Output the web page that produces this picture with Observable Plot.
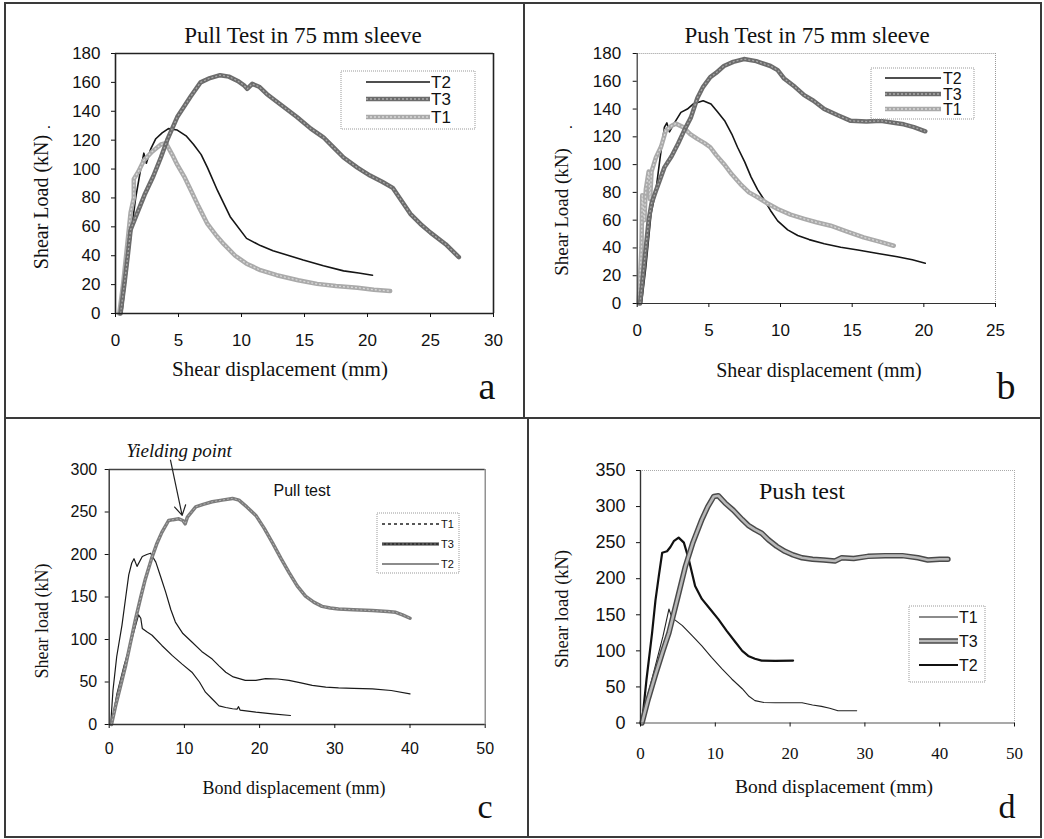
<!DOCTYPE html>
<html>
<head>
<meta charset="utf-8">
<script src="https://cdn.jsdelivr.net/npm/d3@7"></script>
<script src="https://cdn.jsdelivr.net/npm/@observablehq/plot@0.6"></script>
<style>
  body { margin: 0; background: #fff; }
  #root { position: relative; width: 1044px; height: 839px; background: #fff; overflow: hidden; }
</style>
</head>
<body>
<div id="root"></div>
<script>
// ---------- Panel a: Pull Test in 75 mm sleeve ----------
const aXTicks = [0, 5, 10, 15, 20, 25, 30];
const aYTicks = [0, 20, 40, 60, 80, 100, 120, 140, 160, 180];
const aT2x = [0.5, 0.9, 1.3, 1.6, 2.0, 2.25, 2.45, 2.8, 3.2, 3.7, 4.2, 4.9, 5.6, 6.2, 6.8, 7.3, 8.1, 9.1, 10.4, 11.5, 12.5, 13.8, 14.9, 16.5, 18.1, 19.3, 20.4];
const aT2y = [0, 30, 60, 80, 100, 111, 104, 114, 121, 125, 128, 127, 123, 117, 110, 101, 85, 67, 52, 47, 43.5, 40, 37, 33, 29.5, 28, 26.5];
const aT1x = [0.3, 0.6, 0.9, 1.2, 1.45, 1.45, 1.8, 2.25, 2.9, 3.6, 4.0, 4.5, 4.9, 5.5, 6.0, 6.6, 7.3, 8.0, 8.6, 9.5, 10.4, 11.5, 12.8, 14.5, 16.0, 17.5, 19.2, 20.5, 21.8];
const aT1y = [0, 20, 45, 70, 80, 93, 98, 106, 112, 117, 118, 110, 103, 94, 85, 74, 62, 54, 48, 40, 34.5, 30, 26.5, 23, 20.5, 19, 17.8, 16.5, 15.5];
const aT3x = [0.4, 0.7, 1.0, 1.2, 1.7, 2.3, 3.0, 3.6, 4.1, 4.9, 5.95, 6.75, 7.5, 8.3, 9.0, 9.7, 10.2, 10.45, 10.85, 11.4, 12.0, 13.2, 14.4, 15.5, 16.5, 17.3, 18.1, 19.2, 20.2, 21.2, 22.0, 22.7, 23.4, 24.2, 25.0, 26.2, 27.25];
const aT3y = [0, 20, 42, 58, 69, 82, 95, 108, 120, 136, 150, 160, 163, 165, 164, 161, 158, 155.5, 159, 157, 152, 144, 136, 128, 122, 115, 108, 101, 95.5, 91, 87, 78, 69, 62, 56, 48, 39];

// ---------- Panel b: Push Test in 75 mm sleeve ----------
const bXTicks = [0, 5, 10, 15, 20, 25];
const bYTicks = [0, 20, 40, 60, 80, 100, 120, 140, 160, 180];
const bT2x = [0.3, 0.6, 0.97, 1.3, 1.6, 1.9, 2.07, 2.25, 2.6, 3.05, 3.5, 3.9, 4.6, 5.15, 5.6, 6.1, 6.6, 7.0, 7.5, 7.95, 8.4, 8.9, 9.3, 9.8, 10.5, 11.2, 12.0, 13.05, 14.2, 15.4, 16.8, 18.15, 19.2, 20.1];
const bT2y = [0, 26, 65, 81, 105, 127, 130, 123.6, 130, 137.6, 140, 143.6, 146, 143.6, 138, 131.6, 122, 112.5, 102, 91, 82, 74, 67, 59.5, 53, 49, 46, 43, 40.5, 38.5, 36, 33.7, 31.5, 29];
const bT1x = [0.1, 0.3, 0.35, 0.5, 0.6, 0.8, 0.9, 1.0, 1.3, 1.67, 2.0, 2.4, 2.7, 3.2, 3.7, 4.2, 4.7, 5.1, 5.5, 6.05, 6.6, 7.2, 7.8, 8.4, 9.1, 9.8, 10.7, 11.65, 12.5, 13.5, 14.6, 15.8, 16.9, 17.9];
const bT1y = [0, 40, 78, 60, 82, 95, 75, 95, 105, 113, 124.6, 128, 129.5, 127, 122, 118.5, 115.5, 112.5, 107, 100.5, 93, 86, 80, 76.5, 72, 68, 64, 61, 58.5, 56, 52, 47.6, 44.5, 41.6];
const bT3x = [0.2, 0.5, 0.8, 1.0, 1.3, 1.55, 1.9, 2.4, 2.85, 3.3, 3.75, 4.2, 4.6, 5.1, 5.5, 6.05, 6.7, 7.45, 8.3, 9.3, 9.8, 10.25, 11.0, 11.65, 12.3, 13.05, 14.0, 14.9, 16.0, 17.0, 18.0, 18.6, 19.3, 20.1];
const bT3y = [0, 30, 60, 72, 81, 88, 98, 106, 115, 125, 134, 148, 156, 163, 166, 171, 174, 176, 174.5, 171, 168, 162, 156, 150, 146, 140, 135.5, 131.5, 131, 131.5, 130, 129, 127, 124];

// ---------- Panel c: Pull test ----------
const cXTicks = [0, 10, 20, 30, 40, 50];
const cYTicks = [0, 50, 100, 150, 200, 250, 300];
const cT3x = [0.3, 0.85, 1.5, 2.2, 2.8, 3.5, 4.2, 4.8, 5.7, 6.3, 7.0, 7.9, 8.5, 9.25, 9.8, 10.1, 10.4, 11.5, 12.5, 13.7, 15.0, 16.4, 17.25, 18.3, 19.5, 20.6, 21.7, 22.8, 23.9, 25.0, 26.1, 27.2, 28.3, 29.4, 30.5, 32.5, 35.0, 37.0, 38.1, 39.0, 40.0];
const cT3y = [0, 22, 45, 70, 95, 124, 150, 171, 197, 212, 226, 240, 241, 242, 240, 236, 244, 256, 259, 262, 264, 266, 264, 256, 246, 231, 214, 196, 179, 163, 151, 144, 139, 137, 136, 135, 134, 133, 132, 129, 125];
const cT2x = [0.2, 0.5, 1.0, 1.7, 2.2, 2.6, 3.0, 3.3, 3.7, 4.4, 5.0, 5.5, 6.2, 6.8, 7.5, 8.2, 8.8, 9.8, 11.0, 12.3, 13.7, 14.6, 15.5, 16.5, 18.1, 19.5, 20.8, 22.4, 23.9, 25.5, 27.0, 28.8, 30.5, 32.5, 35.0, 37.5, 40.0];
const cT2y = [0, 40, 80, 117, 150, 176, 190, 195, 186, 197.6, 200, 201.5, 191, 175, 156, 135, 120.5, 107, 97, 86, 77, 69, 61.5, 56, 52, 52, 54, 53.5, 52, 49, 46, 44, 43, 42.5, 42, 40, 36];
const cT1x = [0.3, 1.0, 2.0, 3.0, 3.9, 4.2, 4.4, 5.0, 5.7, 7.0, 8.4, 9.7, 11.0, 12.0, 12.8, 13.7, 14.6, 15.5, 16.4, 17.0, 17.2, 17.4, 19.5, 21.7, 24.1];
const cT1y = [0, 35, 70, 100, 129, 125, 113, 109, 105, 93, 81, 71, 61.5, 50, 38, 30, 22, 20, 18.5, 18, 21, 17, 14.5, 12.5, 10.6];
const cYieldArrow = [{x1: 8.15, y1: 311, x2: 9.7, y2: 246}];

// ---------- Panel d: Push test ----------
const dXTicks = [0, 10, 20, 30, 40, 50];
const dYTicks = [0, 50, 100, 150, 200, 250, 300, 350];
const dT3x = [0.2, 1.0, 2.0, 3.0, 3.8, 5.0, 6.0, 7.0, 8.2, 9.0, 9.8, 10.4, 11.3, 12.4, 13.6, 14.4, 15.3, 16.2, 17.1, 18.2, 19.3, 20.4, 21.6, 23.0, 24.5, 26.0, 26.9, 28.5, 30.4, 32.7, 35.0, 37.1, 38.4, 40.0, 41.1];
const dT3y = [0, 32, 67, 100, 125, 175, 217, 250, 282, 300, 314, 315, 305, 295, 282, 274, 268, 263, 254, 245, 238, 233, 229, 227, 226, 224.6, 229, 228, 231, 232, 232, 229, 226, 227, 227];
const dT2x = [0.2, 0.8, 1.55, 2.0, 2.45, 2.9, 3.55, 4.0, 4.45, 5.1, 5.8, 6.45, 7.3, 8.2, 9.3, 10.4, 11.5, 12.7, 13.6, 14.4, 15.3, 16.2, 18.0, 20.4];
const dT2y = [0, 60, 125, 170, 204, 236, 238, 244, 252, 257, 250, 227, 190, 172, 158, 144, 128, 112, 100, 93, 89, 86.5, 86, 86.5];
const dT1x = [0.2, 1.0, 2.0, 3.0, 3.8, 4.2, 5.6, 6.9, 8.2, 9.5, 10.9, 12.2, 13.6, 14.5, 15.3, 16.5, 18.0, 20.0, 21.6, 23.0, 24.2, 25.3, 26.4, 28.9];
const dT1y = [0, 40, 80, 120, 158, 146, 135, 121, 107, 91, 75, 61, 47.5, 37, 31, 28.5, 28, 28, 28, 25, 23, 20.5, 17, 17];

// ---------- styles ----------
const sBlack = [{stroke: "#151515", width: 1.6}];
const sDark  = [{stroke: "#6c6c6c", width: 4.5}, {stroke: "#a8a8a8", width: 1.3, dash: "2,2"}];
const sLight = [{stroke: "#aaaaaa", width: 4.5}, {stroke: "#d8d8d8", width: 1.3, dash: "2,2"}];
const cDark  = [{stroke: "#7c7c7c", width: 3.5}, {stroke: "#b2b2b2", width: 1, dash: "2,2"}];
const cThin  = [{stroke: "#1a1a1a", width: 1.2}];
const cLegT1 = [{stroke: "#222", width: 1.3, dash: "3,3"}];
const cLegT3 = [{stroke: "#333", width: 3}, {stroke: "#777", width: 1, dash: "2,2"}];
const dOutl  = [{stroke: "#4a4a4a", width: 5.5}, {stroke: "#b8b8b8", width: 2.6}];
const dT2s   = [{stroke: "#111", width: 2.2}];
const dT1s   = [{stroke: "#222", width: 1.1}];
const dLegT1 = [{stroke: "#666", width: 1.3}];

const root = document.getElementById("root");
const rows = (xs, ys) => xs.map((x, i) => ({x, y: ys[i]}));
const lines = (data, style) => style.map(s => Plot.line(data, {
  x: "x", y: "y", stroke: s.stroke, strokeWidth: s.width, strokeDasharray: s.dash,
  strokeLinejoin: "round", strokeLinecap: s.dash ? "butt" : "round"
}));

function panel(cfg) {
  const [x0, x1] = [cfg.xTicks[0], cfg.xTicks[cfg.xTicks.length - 1]];
  const [y0, y1] = [cfg.yTicks[0], cfg.yTicks[cfg.yTicks.length - 1]];
  const fr = cfg.frame;
  const p = Plot.plot({
    width: cfg.w, height: cfg.h,
    marginLeft: cfg.ml, marginRight: cfg.mr, marginTop: cfg.mt, marginBottom: cfg.mb,
    x: {domain: [x0, x1]}, y: {domain: [y0, y1]},
    style: {fontFamily: "Liberation Sans", fontSize: "16px", color: "#111", background: "none", overflow: "visible"},
    marks: [
      Plot.ruleY([y1], {stroke: fr.top[0], strokeWidth: fr.top[1], strokeDasharray: fr.top[2]}),
      Plot.ruleX([x1], {stroke: fr.right[0], strokeWidth: fr.right[1], strokeDasharray: fr.right[2]}),
      ...cfg.series.flatMap(([d, s]) => lines(d, s)),
      ...(cfg.extra || []),
      Plot.ruleY([y0], {stroke: fr.bottom[0], strokeWidth: fr.bottom[1]}),
      Plot.ruleX([x0], {stroke: fr.left[0], strokeWidth: fr.left[1]}),
      Plot.axisX(cfg.xTicks, {tickSize: 4, tickPadding: cfg.xPad, label: null, fontSize: cfg.xFont || 16, fontFamily: cfg.xFamily || "Liberation Sans"}),
      Plot.axisY(cfg.yTicks, {tickSize: 4, tickPadding: cfg.yPad, label: null, fontSize: cfg.yFont || 16})
    ]
  });
  p.style.position = "absolute";
  p.style.left = cfg.left + "px";
  p.style.top = cfg.top + "px";
  root.appendChild(p);
}

panel({
  left: 0, top: 0, w: 522, h: 418, ml: 115, mr: 29, mt: 53, mb: 105,
  xTicks: aXTicks, yTicks: aYTicks, xPad: 16, yPad: 11, xFont: 17, yFont: 17,
  frame: {top: ["#222", 1.6], right: ["#222", 1.6], bottom: ["#222", 1.6], left: ["#222", 1.6]},
  series: [[rows(aT2x, aT2y), sBlack], [rows(aT1x, aT1y), sLight], [rows(aT3x, aT3y), sDark]]
});
panel({
  left: 522, top: 0, w: 522, h: 418, ml: 114.7, mr: 49, mt: 53, mb: 115,
  xTicks: bXTicks, yTicks: bYTicks, xPad: 16, yPad: 12, xFont: 17, yFont: 17,
  frame: {top: ["#999", 1, "1,1"], right: ["#999", 1, "1,1"], bottom: ["#333", 1.2], left: ["#333", 1.2]},
  series: [[rows(bT2x, bT2y), sBlack], [rows(bT1x, bT1y), sLight], [rows(bT3x, bT3y), sDark]]
});
panel({
  left: 0, top: 418, w: 522, h: 421, ml: 108.7, mr: 37.3, mt: 51, mb: 115,
  xTicks: cXTicks, yTicks: cYTicks, xPad: 14, yPad: 8, xFont: 16, yFont: 16,
  frame: {top: ["#444", 1.4], right: ["#777", 1.2], bottom: ["#333", 1.4], left: ["#333", 1.4]},
  series: [[rows(cT1x, cT1y), cThin], [rows(cT2x, cT2y), cThin], [rows(cT3x, cT3y), cDark]],
  extra: [Plot.arrow(cYieldArrow, {x1: "x1", y1: "y1", x2: "x2", y2: "y2", stroke: "#222", strokeWidth: 1.2, headLength: 14})]
});
panel({
  left: 522, top: 418, w: 522, h: 421, ml: 118, mr: 30, mt: 52, mb: 116.5,
  xTicks: dXTicks, yTicks: dYTicks, xPad: 20, yPad: 11, yFont: 18, xFont: 17, xFamily: "Liberation Serif",
  frame: {top: ["#aaa", 1, "1,1"], right: ["#aaa", 1, "1,1"], bottom: ["#555", 1.2], left: ["#333", 1.4]},
  series: [[rows(dT1x, dT1y), dT1s], [rows(dT2x, dT2y), dT2s], [rows(dT3x, dT3y), dOutl]]
});

// ---------- overlay: panel borders, titles, labels, legends ----------
const svg = d3.select(root).append("svg")
  .attr("width", 1044).attr("height", 839)
  .style("position", "absolute").style("left", "0px").style("top", "0px")
  .style("pointer-events", "none");

const border = svg.append("g").attr("stroke", "#3a3a3a").attr("stroke-width", 2).attr("fill", "none");
border.append("rect").attr("x", 5).attr("y", 3).attr("width", 1036).attr("height", 834);
border.append("line").attr("x1", 524).attr("y1", 3).attr("x2", 524).attr("y2", 418);
border.append("line").attr("x1", 528).attr("y1", 418).attr("x2", 528).attr("y2", 837);
border.append("line").attr("x1", 5).attr("y1", 418).attr("x2", 1041).attr("y2", 418);

const serif = "Liberation Serif", sans = "Liberation Sans";
const texts = [
  {t: "Pull Test in 75 mm sleeve", x: 303, y: 43, s: 23, f: serif},
  {t: "Push Test in 75 mm sleeve", x: 807, y: 43, s: 23, f: serif},
  {t: "Shear displacement (mm)", x: 280, y: 376, s: 21, f: serif},
  {t: "Shear displacement (mm)", x: 819, y: 377, s: 20, f: serif},
  {t: "Shear Load (kN)", x: 48, y: 202, s: 20, f: serif, r: true},
  {t: "Shear Load (kN)", x: 568, y: 212, s: 19, f: serif, r: true},
  {t: "Shear load (kN)", x: 48, y: 621, s: 18, f: serif, r: true},
  {t: "Shear load (kN)", x: 568, y: 609, s: 18.5, f: serif, r: true},
  {t: "Bond displacement (mm)", x: 294, y: 794, s: 18, f: serif},
  {t: "Bond displacement (mm)", x: 834, y: 793, s: 19.5, f: serif},
  {t: "a", x: 487, y: 399, s: 38, f: serif},
  {t: "b", x: 1006, y: 399, s: 38, f: serif},
  {t: "c", x: 485, y: 818, s: 34, f: serif},
  {t: "d", x: 1007, y: 818, s: 34, f: serif},
  {t: "Yielding point", x: 179, y: 457, s: 19, f: serif, i: true},
  {t: "Pull test", x: 302, y: 496, s: 16, f: sans},
  {t: "Push test", x: 802, y: 499, s: 24, f: serif},
  {t: ".", x: 49, y: 128, s: 16, f: sans},
  {t: ".", x: 571, y: 128, s: 16, f: sans}
];
for (const d of texts) {
  const el = svg.append("text").text(d.t)
    .attr("font-family", d.f).attr("font-size", d.s).attr("fill", "#111")
    .attr("text-anchor", "middle");
  if (d.i) el.attr("font-style", "italic");
  if (d.r) el.attr("transform", `translate(${d.x},${d.y}) rotate(-90)`);
  else el.attr("x", d.x).attr("y", d.y);
}

function legend(box, x1, x2, tx, fs, items) {
  svg.append("rect").attr("x", box[0]).attr("y", box[1]).attr("width", box[2]).attr("height", box[3])
    .attr("fill", "#fff").attr("stroke", "#999").attr("stroke-width", 1).attr("stroke-dasharray", "1,1");
  for (const [label, y, style] of items) {
    for (const s of style) {
      svg.append("line").attr("x1", x1).attr("x2", x2).attr("y1", y).attr("y2", y)
        .attr("stroke", s.stroke).attr("stroke-width", s.width)
        .attr("stroke-dasharray", s.dash || null);
    }
    svg.append("text").text(label).attr("x", tx).attr("y", y + fs * 0.36)
      .attr("font-family", sans).attr("font-size", fs).attr("fill", "#111");
  }
}
legend([341, 71, 134, 58], 366, 430, 431, 17, [["T2", 82, sBlack], ["T3", 99, sDark], ["T1", 117, sLight]]);
legend([871, 68, 103, 51], 885, 941, 943, 16, [["T2", 78, sBlack], ["T3", 94, sDark], ["T1", 109, sLight]]);
legend([377, 513, 82, 60], 382, 439, 441, 11, [["T1", 524, cLegT1], ["T3", 544, cLegT3], ["T2", 564, cThin]]);
legend([909, 606, 76, 76], 919, 958, 959, 16, [["T1", 617, dLegT1], ["T3", 641, dOutl], ["T2", 665, dT2s]]);
</script>
</body>
</html>
